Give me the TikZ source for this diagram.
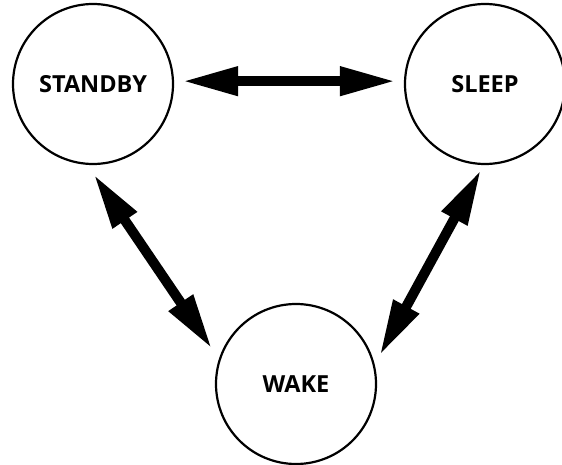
\documentclass[tikz,border=0pt]{standalone}
\usepackage{fontspec}
\setmainfont{Open Sans}
\usetikzlibrary{arrows.meta}

\tikzset{every picture/.style={line width=0.75pt}}
\tikzset{
  state/.style={draw, circle, line width=2.2pt, minimum size=160pt, inner sep=0pt, font=\bfseries\fontsize{23.5}{27}\selectfont},
  biarrow/.style={line width=10pt, {Triangle[length=56pt,width=27pt]}-{Triangle[length=56pt,width=27pt]}}
}

\begin{document}
\begin{tikzpicture}[x=1pt,y=1pt,yscale=-1,xscale=1]
\useasboundingbox (0,0) rectangle (562,465);

%States
\node [state] (standby) at (93,84) {STANDBY};
\node [state] (sleep) at (485,84) {SLEEP};
\node [state] (wake) at (296,384) {WAKE};

%Transitions
\draw [biarrow, shorten <=8pt, shorten >=8pt] (standby.2) -- (sleep.178);
\draw [biarrow, shorten <=11pt, shorten >=12pt] (standby.266) -- (wake.162);
\draw [biarrow, shorten <=5pt, shorten >=10pt] (sleep.269) -- (wake.14);

\end{tikzpicture}
\end{document}
